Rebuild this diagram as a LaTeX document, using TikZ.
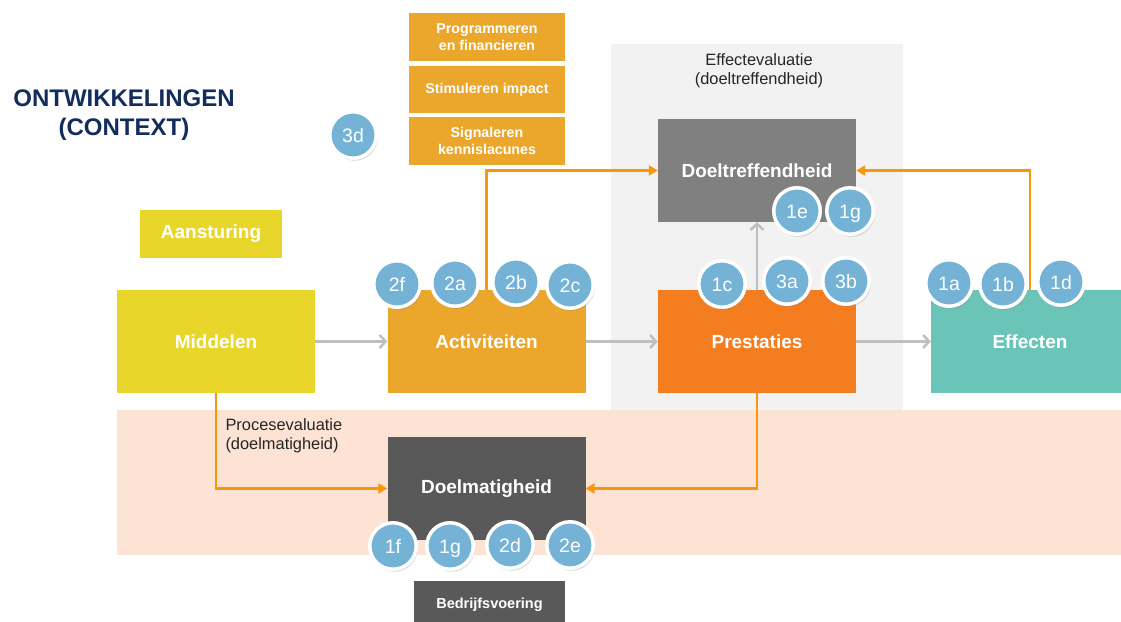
\documentclass[tikz,border=0pt]{standalone}
\usepackage{fontspec}
\setmainfont{Liberation Sans}
\usetikzlibrary{positioning,arrows.meta,shadows}

\definecolor{geel}{RGB}{233,214,42}
\definecolor{okergeel}{RGB}{235,166,44}
\definecolor{oranje}{RGB}{244,125,32}
\definecolor{turkoois}{RGB}{106,196,184}
\definecolor{lichtgrijs}{RGB}{242,242,242}
\definecolor{zalm}{RGB}{253,227,211}
\definecolor{middengrijs}{RGB}{128,128,128}
\definecolor{donkergrijs}{RGB}{89,89,89}
\definecolor{lijngrijs}{RGB}{191,191,191}
\definecolor{pijloranje}{RGB}{250,150,10}
\definecolor{bolblauw}{RGB}{116,178,214}
\definecolor{marine}{RGB}{18,45,92}
\definecolor{tekstgrijs}{RGB}{38,38,38}

\tikzset{
  blok/.style={minimum width=198pt, minimum height=103pt, inner sep=0pt,
    text=white, font=\bfseries\fontsize{19}{22}\selectfont},
  knop/.style={inner sep=0pt, text=white, align=center, fill=okergeel,
    minimum width=156pt, font=\bfseries\fontsize{14.2}{17.5}\selectfont},
  bol/.style={circle, fill=bolblauw, draw=white, line width=3.5pt,
    minimum size=46.5pt, inner sep=0pt, text=white, text height=14pt, text depth=0pt,
    font=\fontsize{19.5}{19.5}\selectfont,
    drop shadow={opacity=0.3, shadow xshift=1.5pt, shadow yshift=-2.5pt}},
  grijspijl/.style={draw=lijngrijs, line width=2.5pt, -{Straight Barb[length=6pt,width=13pt]}},
  oranjepijl/.style={draw=pijloranje, line width=2.8pt, -{Triangle[length=9pt,width=10pt]}},
  uitleg/.style={text=tekstgrijs, font=\fontsize{16.4}{19}\selectfont}
}

\begin{document}
\begin{tikzpicture}[x=1pt, y=-1pt]
    \path[use as bounding box, clip] (0,0) rectangle (1121,621);

    % achtergrondvlakken
    \fill[lichtgrijs] (611,44) rectangle (903,410);
    \fill[zalm] (117,410) rectangle (1121,555);

    \node[uitleg, align=center] (effectevaluatie) at (759,71) {Effectevaluatie\\(doeltreffendheid)};
    \node[uitleg, align=left, anchor=west] (procesevaluatie) at (222,436) {Procesevaluatie\\(doelmatigheid)};

    \node[align=center, text=marine, font=\bfseries\fontsize{24}{29}\selectfont] (context) at (124,115)
      {ONTWIKKELINGEN\\(CONTEXT)};

    % rol-blokjes bovenaan
    \node[knop, minimum height=48pt] (programmeren) at (487,37) {Programmeren\\en financieren};
    \node[knop, minimum height=47pt] (stimuleren) at (487,89.5) {Stimuleren impact};
    \node[knop, minimum height=48pt] (signaleren) at (487,141) {Signaleren\\kennislacunes};

    \node[fill=geel, minimum width=142pt, minimum height=48pt, inner sep=0pt, text=white,
      font=\bfseries\fontsize{19}{22}\selectfont] (aansturing) at (211,234) {Aansturing};

    % keten
    \node[blok, fill=geel] (middelen) at (216,341.5) {Middelen};
    \node[blok, fill=okergeel] (activiteiten) at (486.5,341.5) {Activiteiten};
    \node[blok, fill=oranje] (prestaties) at (757,341.5) {Prestaties};
    \node[blok, fill=turkoois] (effecten) at (1030,341.5) {Effecten};

    \node[blok, fill=middengrijs] (doeltreffendheid) at (757,170.5) {Doeltreffendheid};
    \node[blok, fill=donkergrijs] (doelmatigheid) at (486.5,488.5) {Doelmatigheid};

    \node[fill=donkergrijs, minimum width=151pt, minimum height=48pt, inner sep=0pt, text=white,
      font=\bfseries\fontsize{14.5}{16}\selectfont] (bedrijfsvoering) at (489.5,605) {Bedrijfsvoering};

    \draw[grijspijl] (middelen) -- (activiteiten);
    \draw[grijspijl] (activiteiten) -- (prestaties);
    \draw[grijspijl] (prestaties) -- (effecten);
    \draw[grijspijl] (prestaties) -- (doeltreffendheid);

    \draw[oranjepijl] (activiteiten.north) |- (doeltreffendheid.west);
    \draw[oranjepijl] (effecten.north) |- (doeltreffendheid.east);
    \draw[oranjepijl] (middelen.south) |- (doelmatigheid.west);
    \draw[oranjepijl] (prestaties.south) |- (doelmatigheid.east);

    % nummers
    \foreach \lbl/\px/\py [count=\i] in {3d/353/135,
        2f/397/284, 2a/455/283, 2b/516/282, 2c/570/285,
        1c/722/284, 3a/787/281, 3b/846/281,
        1e/797/211, 1g/850/211,
        1a/949/283, 1b/1003/284, 1d/1061/282,
        1f/393/546, 1g/450/546, 2d/510/545, 2e/570/545}
      \node[bol] (bol\i) at (\px,\py) {\lbl};
\end{tikzpicture}
\end{document}
